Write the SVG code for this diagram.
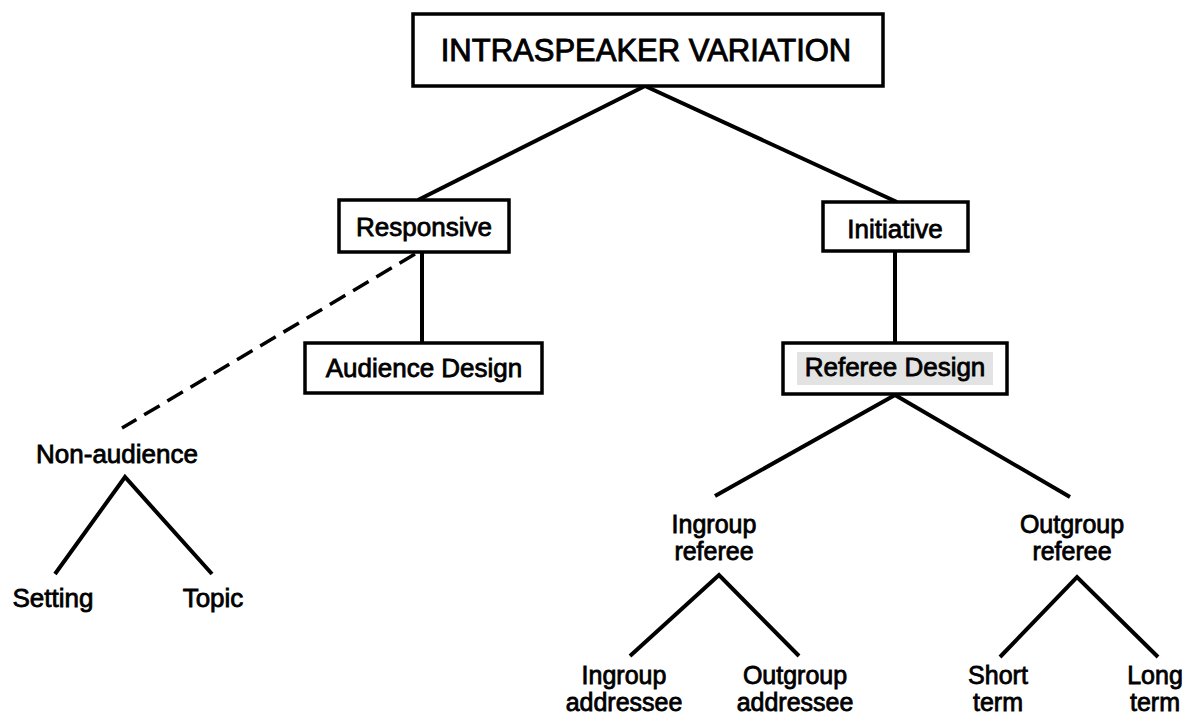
<svg xmlns="http://www.w3.org/2000/svg" width="1188" height="715" viewBox="0 0 1188 715">
<style>
.box{fill:#fff;stroke:#000;stroke-width:3.5}
.t{font-family:"Liberation Sans",Arial,Helvetica,sans-serif;font-size:26px;fill:#000;stroke:#000;stroke-width:0.8;text-anchor:middle}
.s{font-size:25px}
.big{font-size:31px;stroke-width:0.9}
.ln{stroke:#000;stroke-width:4;fill:none;stroke-linecap:butt}
.dash{stroke-dasharray:18 9;stroke-width:3.5}
</style>
<rect width="1188" height="715" fill="#fff"/>
<g id="connectors">
<line class="ln" x1="645" y1="86" x2="418" y2="200"/>
<line class="ln" x1="645" y1="86" x2="897" y2="202"/>
<line class="ln" x1="422" y1="252" x2="422" y2="343"/>
<line class="ln dash" x1="415" y1="254" x2="122" y2="428"/>
<line class="ln" x1="895" y1="251" x2="895" y2="343"/>
<line class="ln" x1="895" y1="395" x2="715" y2="496"/>
<line class="ln" x1="895" y1="395" x2="1070" y2="497"/>
<polyline class="ln" points="55,574 125,477 212,574"/>
<polyline class="ln" points="630,656 719,575 799,656"/>
<polyline class="ln" points="1000,657 1077,577 1158,657"/>
</g>
<g id="intraspeaker">
<rect class="box" x="413" y="14" width="470" height="72"/>
<text class="t big" x="646" y="61">INTRASPEAKER VARIATION</text>
</g>
<g id="responsive">
<rect class="box" x="339" y="200" width="170" height="52"/>
<text class="t" x="424" y="236">Responsive</text>
</g>
<g id="initiative">
<rect class="box" x="823" y="202" width="145" height="49"/>
<text class="t" x="895" y="238">Initiative</text>
</g>
<g id="audience-design">
<rect class="box" x="305" y="343" width="237" height="50"/>
<text class="t" x="424" y="377">Audience Design</text>
</g>
<g id="referee-design">
<rect class="box" x="783" y="343" width="224" height="51"/>
<rect x="797" y="352" width="196" height="33" fill="#dcdcdc" opacity="0.8"/>
<text class="t" x="895" y="376">Referee Design</text>
</g>
<g id="non-audience">
<text class="t" x="117" y="463">Non-audience</text>
</g>
<g id="setting">
<text class="t" x="53" y="607">Setting</text>
</g>
<g id="topic">
<text class="t" x="213" y="607">Topic</text>
</g>
<g id="ingroup-referee">
<text class="t s" x="714" y="533">Ingroup</text>
<text class="t s" x="714" y="560">referee</text>
</g>
<g id="outgroup-referee">
<text class="t s" x="1072" y="533">Outgroup</text>
<text class="t s" x="1072" y="560">referee</text>
</g>
<g id="ingroup-addressee">
<text class="t s" x="624" y="684">Ingroup</text>
<text class="t s" x="624" y="711">addressee</text>
</g>
<g id="outgroup-addressee">
<text class="t s" x="795" y="684">Outgroup</text>
<text class="t s" x="795" y="711">addressee</text>
</g>
<g id="short-term">
<text class="t s" x="998" y="684">Short</text>
<text class="t s" x="998" y="711">term</text>
</g>
<g id="long-term">
<text class="t s" x="1155" y="684">Long</text>
<text class="t s" x="1155" y="711">term</text>
</g>
</svg>
